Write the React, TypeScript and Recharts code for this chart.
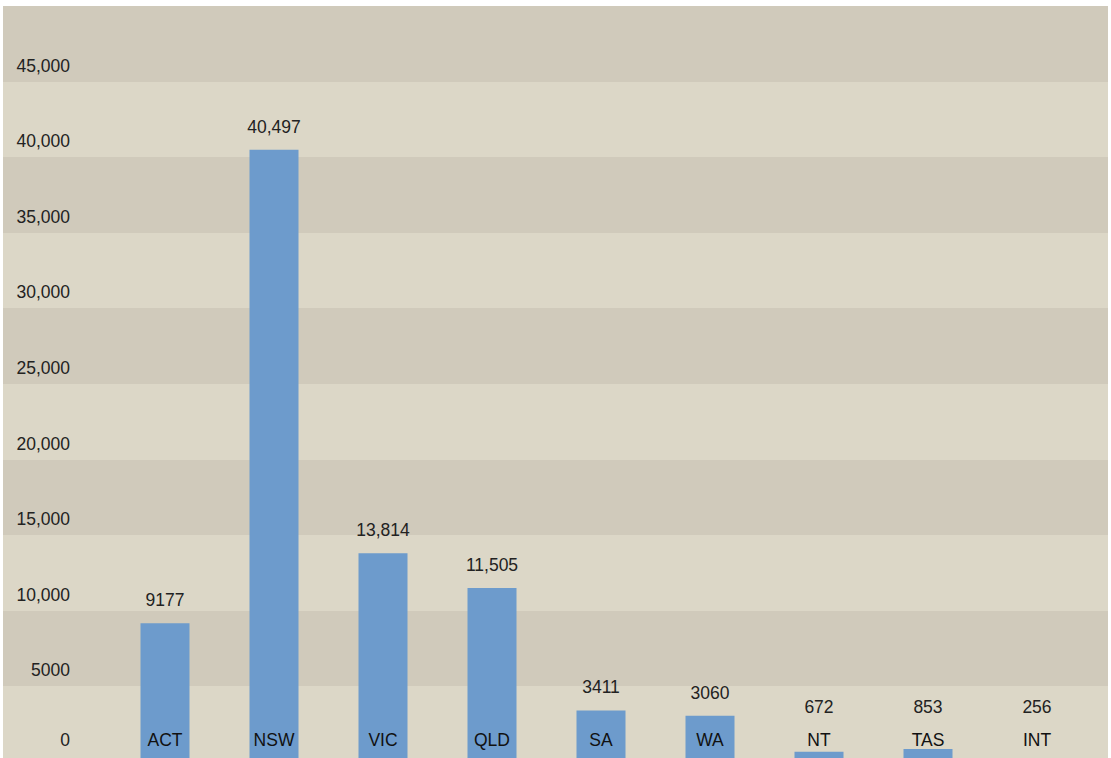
import { BarChart, Bar, XAxis, YAxis, CartesianGrid, LabelList } from "recharts";

const states = ["ACT", "NSW", "VIC", "QLD", "SA", "WA", "NT", "TAS", "INT"];
const counts = [9177, 40497, 13814, 11505, 3411, 3060, 672, 853, 256];
const yTicks = [0, 5000, 10000, 15000, 20000, 25000, 30000, 35000, 40000, 45000, 50000];

const data = states.map((state, i) => ({ state, count: counts[i] }));

const FONT = '"Liberation Sans", Helvetica, Arial, sans-serif';

// Numbers style: 4 digit numbers have no separator
const fmt = (n: number) => (n >= 10000 ? n.toLocaleString("en-US") : String(n));

const renderYTick = (props: any) => {
  const { y, payload } = props;
  if (payload.value === 50000) return <g />;
  const dy = payload.value === 0 ? -22 : -16;
  return (
    <text
      x={70}
      y={y + dy}
      textAnchor="end"
      dominantBaseline="central"
      fontFamily={FONT}
      fontSize={17.5}
      fill="#222"
    >
      {fmt(payload.value)}
    </text>
  );
};

const ValueLabel = (props: any) => {
  const { x, y, width, height, value } = props;
  const base = y + height;
  const top = Math.min(y - 23, base - 55);
  return (
    <text
      x={x + width / 2}
      y={top}
      textAnchor="middle"
      dominantBaseline="central"
      fontFamily={FONT}
      fontSize={17.5}
      fill="#222"
    >
      {fmt(value)}
    </text>
  );
};

const NameLabel = (props: any) => {
  const { x, y, width, height, value } = props;
  return (
    <text
      x={x + width / 2}
      y={y + height - 22}
      textAnchor="middle"
      dominantBaseline="central"
      fontFamily={FONT}
      fontSize={17.5}
      fill="#111"
    >
      {value}
    </text>
  );
};

export default function App() {
  return (
    <div
      style={{
        position: "fixed",
        left: 0,
        top: 0,
        width: 1111,
        height: 758,
        overflow: "hidden",
        background: "#fff",
      }}
    >
      <BarChart
        width={1111}
        height={770}
        data={data}
        margin={{ top: 6, right: 3, bottom: 8, left: -67 }}
      >
        <CartesianGrid
          vertical={false}
          stroke="none"
          horizontalFill={["#d0cabb", "#dcd7c7"]}
        />
        <XAxis
          dataKey="state"
          hide
          padding={{ left: 107.5, right: 16.5 }}
        />
        <YAxis
          width={70}
          domain={[0, 50000]}
          ticks={yTicks}
          interval={0}
          axisLine={false}
          tickLine={false}
          tick={renderYTick}
        />
        <Bar dataKey="count" fill="#6d9bcc" barSize={49} isAnimationActive={false}>
          <LabelList dataKey="count" content={<ValueLabel />} />
          <LabelList dataKey="state" content={<NameLabel />} />
        </Bar>
      </BarChart>
    </div>
  );
}
